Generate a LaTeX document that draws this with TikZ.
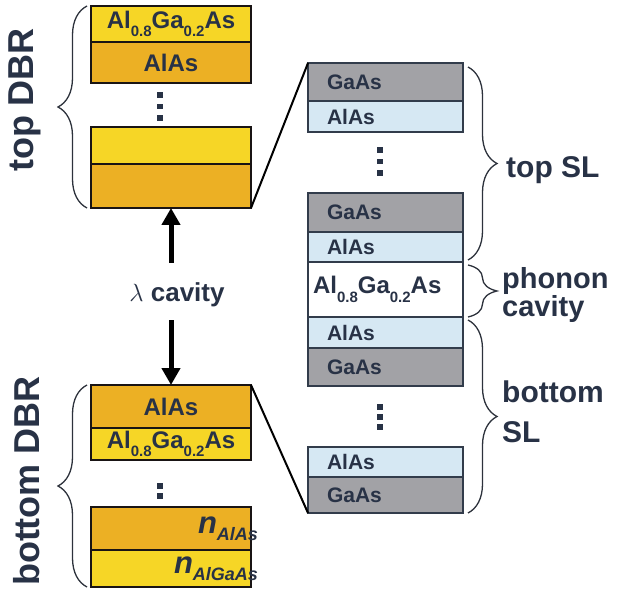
\documentclass[tikz,border=0pt]{standalone}
\usepackage{fontspec}
\setmainfont{Liberation Sans}
\usetikzlibrary{positioning, calc, decorations.pathreplacing, arrows.meta}
\definecolor{dbr-orange}{RGB}{236,176,36}
\definecolor{dbr-yellow}{RGB}{246,214,38}
\definecolor{sl-grey}{RGB}{162,162,166}
\definecolor{sl-blue}{RGB}{214,232,243}
\definecolor{ink}{RGB}{40,50,70}
\newcommand{\lowidx}[1]{\raisebox{-0.35em}{\fontsize{15}{15}\selectfont #1}}
\newcommand{\nidx}[1]{{\fontsize{31}{31}\selectfont\itshape n}\raisebox{-7pt}{\fontsize{18}{18}\selectfont\itshape #1}}

\begin{document}
\begin{tikzpicture}[
    x=1pt, y=-1pt,
    layer/.style={rectangle, inner sep=0pt, outer sep=0pt, text=ink, font=\bfseries\fontsize{24}{24}\selectfont},
    dbr/.style={layer, draw={rgb,255:red,25;green,20;blue,20}, line width=2.5pt, minimum width=160pt},
    orangelayer/.style={dbr, fill=dbr-orange},
    yellowlayer/.style={dbr, fill=dbr-yellow},
    sl/.style={layer, draw={rgb,255:red,50;green,60;blue,75}, line width=2pt, minimum width=155pt, inner xsep=19pt, text width=117pt, align=left, font=\bfseries\fontsize{21}{21}\selectfont},
    gaas/.style={sl, fill=sl-grey},
    alas/.style={sl, fill=sl-blue},
    phlayer/.style={sl, fill=white, inner xsep=5pt, text width=145pt, font=\bfseries\fontsize{24}{24}\selectfont},
    dotsq/.style={fill=ink},
    sidelbl/.style={text=ink, font=\bfseries\fontsize{36}{36}\selectfont, rotate=90},
    sllbl/.style={text=ink, font=\bfseries\fontsize{30}{30}\selectfont, align=left, inner sep=0pt, anchor=west},
    brace/.style={decorate, decoration={brace, amplitude=29pt, aspect=0.5}, line width=1.3pt, draw={rgb,255:red,45;green,50;blue,60}},
    bigarrow/.style={line width=5pt, -{Triangle[width=18pt, length=17pt]}},
    zoomline/.style={line width=2pt}
]
\useasboundingbox (0,0) rectangle (623,593);

% top DBR
\node[yellowlayer, minimum height=36pt, anchor=north] (tdbrA) at (171,6) {Al\lowidx{0.8}Ga\lowidx{0.2}As};
\node[orangelayer, minimum height=41pt, below=0pt of tdbrA] (tdbrB) {AlAs};
\node[yellowlayer, minimum height=37pt, below=44pt of tdbrB] (tdbrC) {};
\node[orangelayer, minimum height=44pt, below=0pt of tdbrC] (tdbrD) {};

% bottom DBR
\node[orangelayer, minimum height=43pt, anchor=north] (bdbrA) at (171,385) {AlAs};
\node[yellowlayer, minimum height=32pt, below=0pt of bdbrA] (bdbrB) {Al\lowidx{0.8}Ga\lowidx{0.2}As};
\node[orangelayer, minimum height=43pt, below=47pt of bdbrB, align=right, text width=160pt] (bdbrC) {\hfill\nidx{AlAs}\hspace*{-7pt}};
\node[yellowlayer, minimum height=37pt, below=0pt of bdbrC, align=right, text width=160pt] (bdbrD) {\hfill\nidx{AlGaAs}\hspace*{-7pt}};

% superlattice stack
\node[gaas, minimum height=38pt, anchor=north] (slA) at (385.5,63) {GaAs};
\node[alas, minimum height=31pt, below=0pt of slA] (slB) {AlAs};
\node[gaas, minimum height=39pt, below=61pt of slB] (slC) {GaAs};
\node[alas, minimum height=30pt, below=0pt of slC] (slD) {AlAs};
\node[phlayer, minimum height=55pt, below=0pt of slD] (slE) {Al\lowidx{0.8}Ga\lowidx{0.2}As};
\node[alas, minimum height=31pt, below=0pt of slE] (slF) {AlAs};
\node[gaas, minimum height=38pt, below=0pt of slF] (slG) {GaAs};
\node[alas, minimum height=30pt, below=61pt of slG] (slH) {AlAs};
\node[gaas, minimum height=36pt, below=0pt of slH] (slI) {GaAs};

% dots
\foreach \x/\y in {160/95, 160/106.5, 160/118, 160/486, 160/496,
                   380/150, 380/161.5, 380/173, 380/407, 380/417, 380/427}
  \fill[dotsq] (\x-2.6,\y-2.6) rectangle (\x+2.6,\y+2.6);

% zoom lines
\draw[zoomline] (tdbrD.south east) -- (slA.north west);
\draw[zoomline] (bdbrA.north east) -- (slI.south west);

% lambda cavity
\node[text=ink, font=\bfseries\fontsize{26}{26}\selectfont] (cavlbl) at (177,295) {$\lambda$ cavity};
\draw[bigarrow] (tdbrD.south |- 0,263) -- (tdbrD.south);
\draw[bigarrow] (bdbrA.north |- 0,320) -- (bdbrA.north);

% braces
\draw[brace] ($(tdbrD.south west)+(-4,0)$) -- ($(tdbrA.north west)+(-4,0)$);
\draw[brace] ($(bdbrD.south west)+(-4,0)$) -- ($(bdbrA.north west)+(-4,0)$);
\draw[brace] ($(slA.north east)+(5,4)$) -- ($(slD.south east)+(5,-2)$);
\draw[brace] ($(slE.north east)+(5,3)$) -- ($(slE.south east)+(5,0)$);
\draw[brace] ($(slF.north east)+(5,3)$) -- ($(slI.south east)+(5,0)$);

% labels
\node[sidelbl] (tdbrlbl) at (25,100) {top DBR};
\node[sidelbl] (bdbrlbl) at (27,481) {bottom DBR};
\node[sllbl] (topsllbl) at (506,170) {top SL};
\node[sllbl, font=\bfseries\fontsize{29}{27}\selectfont] (phlbl) at (502,295) {phonon\\cavity};
\node[sllbl, font=\bfseries\fontsize{30}{40}\selectfont] (botsllbl) at (502,412) {bottom\\SL};

\end{tikzpicture}
\end{document}
